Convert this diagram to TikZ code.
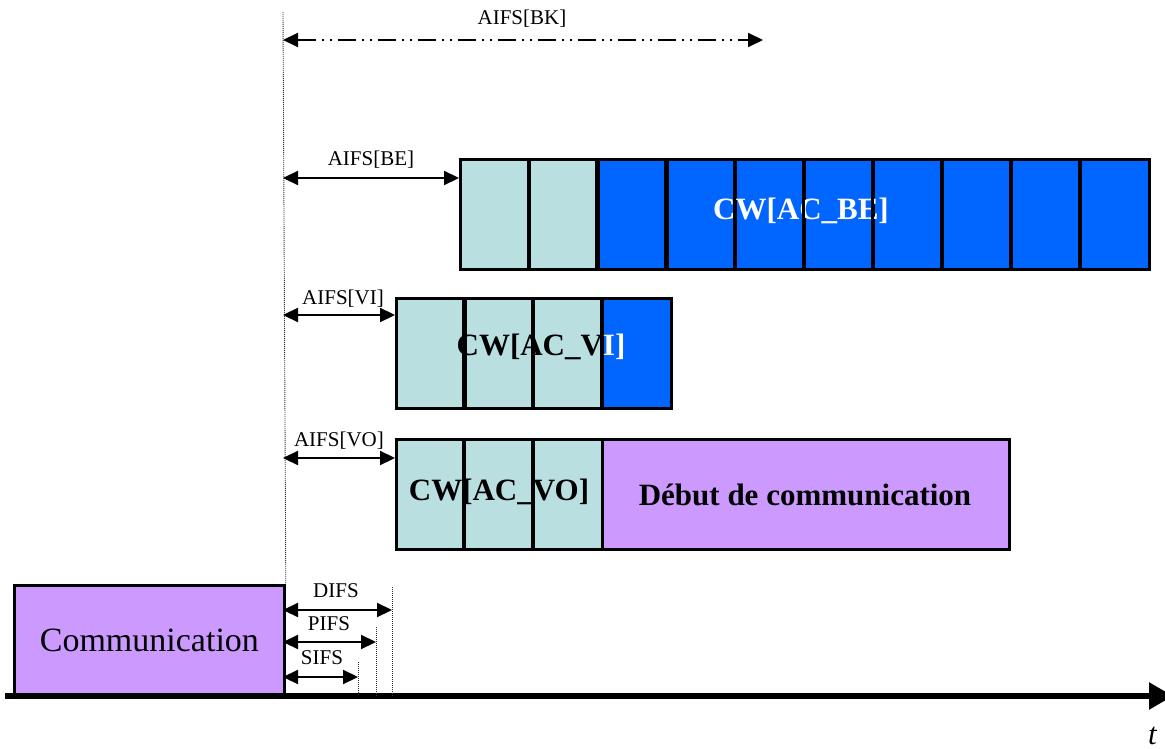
\documentclass[tikz,border=0pt]{standalone}
\usepackage{fontspec}
\setmainfont{Liberation Serif}
\usetikzlibrary{arrows.meta}
\definecolor{slotcyan}{RGB}{186,223,225}
\definecolor{slotblue}{RGB}{0,102,255}
\definecolor{txpurple}{RGB}{204,153,255}

\begin{document}
\begin{tikzpicture}[x=1pt,y=-1pt,
  slot/.style={draw=black, line width=2.8pt, rectangle, inner sep=0pt,
               minimum height=110pt, anchor=north west},
  small/.style={font=\fontsize{21}{24}\selectfont, inner sep=0pt},
  big/.style={font=\fontsize{31}{36}\selectfont\bfseries, inner sep=0pt},
  dimarr/.style={line width=2.2pt,
                 {Triangle[length=15pt,width=14pt]}-{Triangle[length=15pt,width=14pt]}},
  refline/.style={line width=0.9pt, dash pattern=on 1pt off 1pt, black!80},
  sep/.style={draw=black, line width=2.8pt}]
\useasboundingbox (0,0) rectangle (1165,749);

% ---- AC_BE contention window: 2 idle slots + 8 backoff slots
\foreach \i in {0,...,9}{
  \ifnum\i<2 \def\slotcol{slotcyan}\else\def\slotcol{slotblue}\fi
  \node[slot, fill=\slotcol, minimum width=68.9pt] (be\i) at ({459+68.9*\i},158) {};
}
\node[big, text=white] (betext) at (801,211) {CW[AC\_BE]};
\foreach \i in {1,...,9} \draw[sep] (be\i.north west) -- (be\i.south west);

% ---- AC_VI contention window
\foreach \i in {0,...,3}{
  \ifnum\i<3 \def\slotcol{slotcyan}\else\def\slotcol{slotblue}\fi
  \node[slot, fill=\slotcol, minimum width=68.75pt] (vi\i) at ({395+68.75*\i},297) {};
}
\begin{scope}
  \clip (vi0.north west) rectangle (vi2.south east);
  \node[big] (vitext) at (541,347) {CW[AC\_VI]};
\end{scope}
\begin{scope}
  \clip (vi3.north west) rectangle (vi3.south east);
  \node[big, text=white] (vitextw) at (541,347) {CW[AC\_VI]};
\end{scope}
\foreach \i in {1,...,3} \draw[sep] (vi\i.north west) -- (vi\i.south west);

% ---- AC_VO contention window and start of transmission
\foreach \i in {0,...,2}{
  \node[slot, fill=slotcyan, minimum width=68.67pt] (vo\i) at ({395+68.67*\i},438) {};
}
\node[slot, fill=txpurple, minimum width=407pt] (debut) at (601,438) {};
\node[big] (votext) at (499,492) {CW[AC\_VO]};
\node[big] (debuttext) at (805,495) {Début de communication};
\foreach \i in {1,2} \draw[sep] (vo\i.north west) -- (vo\i.south west);

% ---- ongoing communication
\node[slot, fill=txpurple, minimum width=270pt,
      font=\fontsize{34}{40}\selectfont] (comm) at (13,584) {Communication};

% ---- reference instant (end of the medium occupation)
\coordinate (reftop) at (283,12);
\draw[refline] (reftop) -- (comm.north east);

% ---- AIFS intervals
\coordinate (bkL) at (283,40);
\coordinate (bkR) at (763,40);
\draw[line width=2pt, dash pattern=on 18pt off 6pt on 2pt off 6pt on 2pt off 6pt,
      {Triangle[length=15pt,width=14pt]}-{Triangle[length=15pt,width=14pt]}] (bkL) -- (bkR);
\node[small] (bklab) at (522,19) {AIFS[BK]};

\coordinate (beL) at (283,178);
\draw[dimarr] (beL) -- (beL -| be0.west);
\node[small] (belab) at (371,160) {AIFS[BE]};

\coordinate (viL) at (283,315);
\draw[dimarr] (viL) -- (viL -| vi0.west);
\node[small] (vilab) at (343,299) {AIFS[VI]};

\coordinate (voL) at (283,458);
\draw[dimarr] (voL) -- (voL -| vo0.west);
\node[small] (volab) at (339,441) {AIFS[VO]};

% ---- time axis
\coordinate (t0) at (5,696);
\coordinate (t1) at (1173,696);
\draw[line width=5.5pt, -{Triangle[length=24pt,width=26pt]}] (t0) -- (t1);
\node[anchor=base west, inner sep=0pt, font=\fontsize{31}{36}\selectfont\itshape] (tlab) at (1148,744) {t};

% ---- DIFS / PIFS / SIFS
\coordinate (difsT) at (392,587);
\coordinate (pifsT) at (376,627);
\coordinate (sifsT) at (358,662);
\draw[refline] (difsT) -- (difsT |- t0);
\draw[refline] (pifsT) -- (pifsT |- t0);
\draw[refline] (sifsT) -- (sifsT |- t0);

\coordinate (difsL) at (283,610);
\coordinate (pifsL) at (283,642);
\coordinate (sifsL) at (283,677);
\draw[dimarr] (difsL) -- (difsL -| difsT);
\draw[dimarr] (pifsL) -- (pifsL -| pifsT);
\draw[dimarr] (sifsL) -- (sifsL -| sifsT);
\node[small] (difslab) at (336,591) {DIFS};
\node[small] (pifslab) at (329,624) {PIFS};
\node[small] (sifslab) at (322,658) {SIFS};
\end{tikzpicture}
\end{document}
